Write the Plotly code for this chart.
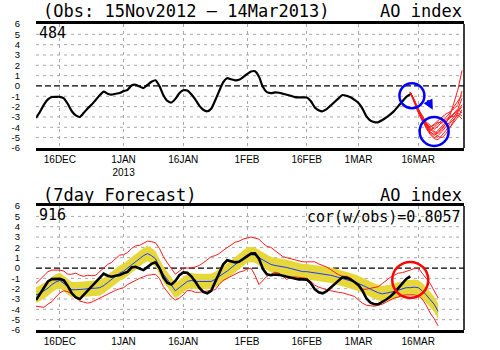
import plotly.graph_objects as go
import pandas as pd

# ---------------- data ----------------
start_date = "2012-12-10"
obs_ao = [
    -3.1, -2.5, -1.8, -1.3, -1.07, -1.05, -1.05, -1.2, -1.75, -2.45,
    -2.85, -3.0, -2.6, -2.15, -1.8, -1.35, -0.9, -0.55, -0.75, -0.84,
    -0.75, -0.68, -0.5, -0.38, 0.05, 0.12, -0.05, -0.2, 0.1, 0.4,
    0.55, 0.0, -0.9, -1.45, -1.6, -1.25, -0.7, -0.42, -0.45, -0.8,
    -1.3, -1.9, -2.3, -2.45, -2.2, -1.4, -0.5, 0.35, 0.75, 0.65,
    0.55, 0.6, 0.85, 1.15, 1.4, 1.42, 0.9, -0.1, -0.6, -0.7,
    -0.63, -0.66, -0.75, -0.85, -0.95, -1.08, -1.1, -1.1, -1.12, -1.45,
    -2.05, -2.35, -2.45, -2.25, -1.9, -1.55, -1.2, -0.88, -0.95, -1.1,
    -1.35, -1.65, -2.2, -2.95, -3.35, -3.5, -3.5, -3.3, -3.05, -2.75,
    -2.4, -1.95, -1.5, -1.05, -0.8,
]

fc_mean = [
    -2.6, -2.45, -2.2, -1.95, -1.6, -1.35, -1.2, -1.5, -1.8, -2.1,
    -2.1, -2.1, -2.05, -2.0, -2.0, -1.95, -1.9, -1.7, -1.4, -1.1,
    -0.8, -0.5, -0.3, 0.0, 0.35, 0.6, 0.9, 1.2, 1.4, 1.2,
    0.9, 0.2, -0.6, -1.1, -1.7, -2.2, -1.9, -1.6, -1.3, -1.2,
    -1.3, -1.3, -1.3, -1.3, -1.3, -1.1, -0.8, -0.55, -0.3, 0.0,
    0.3, 0.6, 0.9, 1.25, 1.3, 1.25, 1.0, 0.8, 0.6, 0.35,
    0.25, 0.2, 0.15, 0.05, -0.05, -0.15, -0.25, -0.35, -0.35, -0.4,
    -0.5, -0.55, -0.6, -0.65, -0.7, -0.8, -0.9, -1.0, -1.1, -1.2,
    -1.35, -1.5, -1.65, -1.85, -2.05, -2.25, -2.4, -2.5, -2.45, -2.35,
    -2.25, -2.15, -2.0, -1.9, -1.9, -1.85, -1.9, -2.2, -2.6, -3.0,
    -3.5, -4.2,
]

fc_upper = [
    -1.5, -1.1, -0.75, -0.35, -0.2, -0.2, -0.2, -0.3, -0.6, -0.6,
    -0.5, -0.7, -0.8, -0.7, -0.75, -0.7, -0.35, 0.0, 0.35, 0.55,
    0.95, 1.25, 1.3, 1.5, 1.9, 2.15, 2.2, 2.4, 2.6, 2.55,
    2.45, 1.9, 1.1, 0.5, 0.0, -0.6, -0.3, 0.0, 0.0, 0.0,
    0.1, 0.25, 0.5, 0.8, 1.1, 1.2, 1.4, 1.7, 1.95, 2.2,
    2.5, 2.6, 2.8, 2.9, 3.0, 2.9, 2.8, 2.4, 2.1, 2.0,
    1.7, 1.4, 1.1, 1.0, 0.9, 0.8, 0.7, 0.6, 0.6, 0.6,
    0.6, 0.4, 0.25, 0.1, -0.15, -0.4, -0.65, -0.8, -0.8, -0.95,
    -1.45, -1.8, -2.05, -2.05, -1.95, -1.85, -1.8, -1.5, -1.2, -0.9,
    -0.7, -0.5, -0.45, -0.35, -0.2, -0.05, 0.0, -0.5, -0.95, -1.5,
    -2.2, -2.9,
]

fc_lower = [
    -3.7, -3.75, -3.8, -3.5, -3.25, -2.8, -2.4, -2.2, -2.3, -2.5,
    -2.9, -3.2, -3.3, -3.4, -3.3, -3.1, -2.9, -2.75, -2.55, -2.35,
    -2.15, -2.0, -1.9, -1.6, -1.4, -1.15, -1.0, -0.85, -0.7, -0.65,
    -0.6, -1.0, -1.8, -2.3, -2.8, -3.1, -2.9, -2.6, -2.15, -2.2,
    -2.35, -2.35, -2.3, -2.25, -2.2, -2.1, -1.6, -1.2, -1.0, -0.8,
    -0.6, -0.4, -0.3, -0.1, 0.0, -0.7, -1.6, -1.2, -0.8, -0.6,
    -0.4, -0.5, -0.8, -1.1, -0.9, -0.85, -0.9, -0.95, -1.0, -1.3,
    -1.65, -1.85, -2.0, -2.1, -2.2, -2.3, -2.35, -2.4, -2.5, -2.6,
    -2.75, -3.1, -3.4, -3.6, -3.65, -3.7, -3.6, -3.5, -3.3, -3.1,
    -2.9, -2.8, -2.65, -2.6, -2.6, -2.6, -2.7, -3.0, -3.6, -4.35,
    -4.9, -5.6,
]

band_half_width = 0.75

ens_start = "2013-03-14"
ens_members = [
    [-0.6, -1.4, -2.3, -3.1, -3.7, -4.1, -4.4, -4.6, -4.2, -3.6, -2.8, -1.6, -0.3, 1.5],
    [-0.6, -1.5, -2.4, -3.2, -3.9, -4.5, -4.7, -4.3, -3.9, -3.4, -3.0, -2.6, -2.2, -1.2],
    [-0.6, -1.4, -2.3, -3.0, -3.6, -4.0, -3.7, -3.3, -3.0, -2.7, -2.5, -2.2, -1.8, -0.5],
    [-0.6, -1.6, -2.6, -3.4, -4.0, -4.6, -5.0, -4.8, -4.4, -3.9, -3.4, -2.9, -2.5, -2.0],
    [-0.6, -1.5, -2.5, -3.3, -3.9, -4.3, -4.0, -3.6, -3.3, -3.5, -3.1, -2.7, -2.3, -2.6],
    [-0.6, -1.3, -2.2, -2.9, -3.5, -3.8, -4.2, -3.9, -3.5, -3.1, -2.6, -2.0, -1.5, -0.9],
    [-0.6, -1.5, -2.4, -3.3, -4.1, -4.7, -5.1, -5.2, -4.8, -4.3, -3.6, -3.2, -2.8, -3.2],
    [-0.6, -1.4, -2.3, -3.1, -3.7, -4.0, -3.8, -3.5, -3.6, -3.2, -2.9, -3.0, -2.4, -1.8],
    [-0.6, -1.5, -2.5, -3.2, -3.8, -4.4, -4.8, -4.5, -4.0, -3.7, -4.0, -3.5, -3.0, -2.3],
    [-0.6, -1.4, -2.4, -3.2, -3.8, -4.2, -4.5, -4.9, -5.0, -4.6, -4.0, -3.3, -2.6, -2.9],
]

tick_dates = ["2012-12-16", "2013-01-01", "2013-01-16", "2013-02-01",
              "2013-02-16", "2013-03-01", "2013-03-16"]
tick_labels = ["16DEC", "1JAN<br>2013", "16JAN", "1FEB", "16FEB", "1MAR", "16MAR"]
y_ticks = list(range(-6, 7))
y_labels = [str(v) for v in y_ticks]
grid_levels = [v for v in y_ticks if v not in (-6, 0, 6)]

x_range = ["2012-12-10", "2013-03-27 12:00"]

# ---------------- figure ----------------
obs_dates = pd.date_range(start_date, periods=len(obs_ao), freq="D")
fc_dates = pd.date_range(start_date, periods=len(fc_mean), freq="D")
ens_dates = pd.date_range(ens_start, periods=len(ens_members[0]), freq="D")

band_hi = [m + band_half_width for m in fc_mean]
band_lo = [m - band_half_width for m in fc_mean]

RED = "#ff1a1a"
YEL = "#e6d83a"
GRID = "#a8a8a8"
fig = go.Figure()

# top panel: ensemble + obs
for mem in ens_members:
    fig.add_trace(go.Scatter(x=ens_dates, y=mem, mode="lines",
                             line=dict(color=RED, width=1),
                             xaxis="x", yaxis="y", showlegend=False, hoverinfo="skip"))
fig.add_trace(go.Scatter(x=obs_dates, y=obs_ao, mode="lines",
                         line=dict(color="black", width=2.2, shape="spline", smoothing=0.6),
                         xaxis="x", yaxis="y", showlegend=False))

# bottom panel
fig.add_trace(go.Scatter(x=fc_dates, y=band_lo, mode="lines", line=dict(width=0, color=YEL),
                         xaxis="x2", yaxis="y2", showlegend=False, hoverinfo="skip"))
fig.add_trace(go.Scatter(x=fc_dates, y=band_hi, mode="lines", line=dict(width=0, color=YEL),
                         fill="tonexty", fillcolor=YEL,
                         xaxis="x2", yaxis="y2", showlegend=False, hoverinfo="skip"))
fig.add_trace(go.Scatter(x=fc_dates, y=fc_upper, mode="lines", line=dict(color=RED, width=1),
                         xaxis="x2", yaxis="y2", showlegend=False))
fig.add_trace(go.Scatter(x=fc_dates, y=fc_lower, mode="lines", line=dict(color=RED, width=1),
                         xaxis="x2", yaxis="y2", showlegend=False))
fig.add_trace(go.Scatter(x=fc_dates, y=fc_mean, mode="lines", line=dict(color="#1a3cff", width=1),
                         xaxis="x2", yaxis="y2", showlegend=False))
fig.add_trace(go.Scatter(x=obs_dates, y=obs_ao, mode="lines", line=dict(color="black", width=2.6),
                         xaxis="x2", yaxis="y2", showlegend=False))

xaxis_common = dict(
    range=x_range, type="date", tickvals=tick_dates, ticktext=tick_labels,
    showgrid=True, gridcolor=GRID, griddash="3px,4px", gridwidth=1,
    showline=True, mirror=True, linecolor="black", linewidth=2.5,
    ticks="", zeroline=False, automargin=False,
    tickfont=dict(family="Liberation Sans", size=10, color="black"),
    fixedrange=True,
)
yaxis_common = dict(
    range=[-6, 6], tickvals=y_ticks, ticktext=y_labels,
    showgrid=False, showline=False, zeroline=False, ticks="", automargin=False,
    tickfont=dict(family="Liberation Sans", size=9.5, color="black"),
    ticklabelstandoff=15,
    fixedrange=True,
)

fig.update_layout(
    width=500, height=350,
    margin=dict(l=36, r=36, t=24, b=20),
    paper_bgcolor="white", plot_bgcolor="white",
    xaxis=dict(**xaxis_common, anchor="y"),
    yaxis=dict(**yaxis_common, domain=[0.595, 1.0], anchor="x"),
    xaxis2=dict(**xaxis_common, anchor="y2"),
    yaxis2=dict(**yaxis_common, domain=[0.0, 0.405], anchor="x2"),
    showlegend=False,
)

shapes = []
for xr, yr in (("x", "y"), ("x2", "y2")):
    for lv in grid_levels:
        shapes.append(dict(type="line", xref=xr + " domain", yref=yr, x0=0, x1=1, y0=lv, y1=lv,
                           line=dict(color=GRID, width=1, dash="3px,4px"), layer="below"))
    # dashed zero line
    shapes.append(dict(type="line", xref=xr + " domain", yref=yr, x0=0, x1=1, y0=0, y1=0,
                       line=dict(color="black", width=1.3, dash="6px,3px"), layer="below"))
    # right frame edge
    shapes.append(dict(type="line", xref=xr + " domain", yref=yr + " domain", x0=1, x1=1, y0=0, y1=1,
                       line=dict(color="black", width=1.5)))

# highlight circles
def circ(xr, yr, xc, yc, r, color):
    return dict(type="circle", xref=xr, yref=yr, xsizemode="pixel", ysizemode="pixel",
                xanchor=xc, yanchor=yc, x0=-r, x1=r, y0=-r, y1=r,
                line=dict(color=color, width=2.5))

shapes.append(circ("x", "y", "2013-03-14 10:00", -0.94, 12.5, "#0000ff"))
shapes.append(circ("x", "y", "2013-03-20 00:00", -4.4, 14.5, "#0000ff"))
shapes.append(circ("x2", "y2", "2013-03-14 00:00", -1.15, 18, "#ff0000"))
fig.update_layout(shapes=shapes)

mono = "DejaVu Sans Mono"
ann = [
    dict(text="(Obs: 15Nov2012 – 14Mar2013)", x=0.012, y=1.041, xanchor="left", yanchor="middle",
         font=dict(family=mono, size=17)),
    dict(text="AO index", x=1.0, y=1.041, xanchor="right", yanchor="middle",
         font=dict(family=mono, size=17)),
    dict(text="484", x=0.002, y=0.971, xanchor="left", yanchor="middle",
         font=dict(family=mono, size=15)),
    dict(text="(7day Forecast)", x=0.012, y=0.44, xanchor="left", yanchor="middle",
         font=dict(family=mono, size=17)),
    dict(text="AO index", x=1.0, y=0.441, xanchor="right", yanchor="middle",
         font=dict(family=mono, size=17)),
    dict(text="916", x=0.002, y=0.376, xanchor="left", yanchor="middle",
         font=dict(family=mono, size=15)),
    dict(text="cor(w/obs)=0.8057", x=0.998, y=0.370, xanchor="right", yanchor="middle",
         font=dict(family=mono, size=15)),
]
for a in ann:
    a.update(xref="paper", yref="paper", showarrow=False)
    a["font"]["color"] = "black"
ann.append(dict(text="", x="2013-03-19 16:00", y=-2.3, xref="x", yref="y",
                ax=-6, ay=-11, showarrow=True, arrowhead=2, arrowsize=1,
                arrowwidth=2, arrowcolor="#0000ff"))
fig.update_layout(annotations=ann)

fig.write_html("out.html")
